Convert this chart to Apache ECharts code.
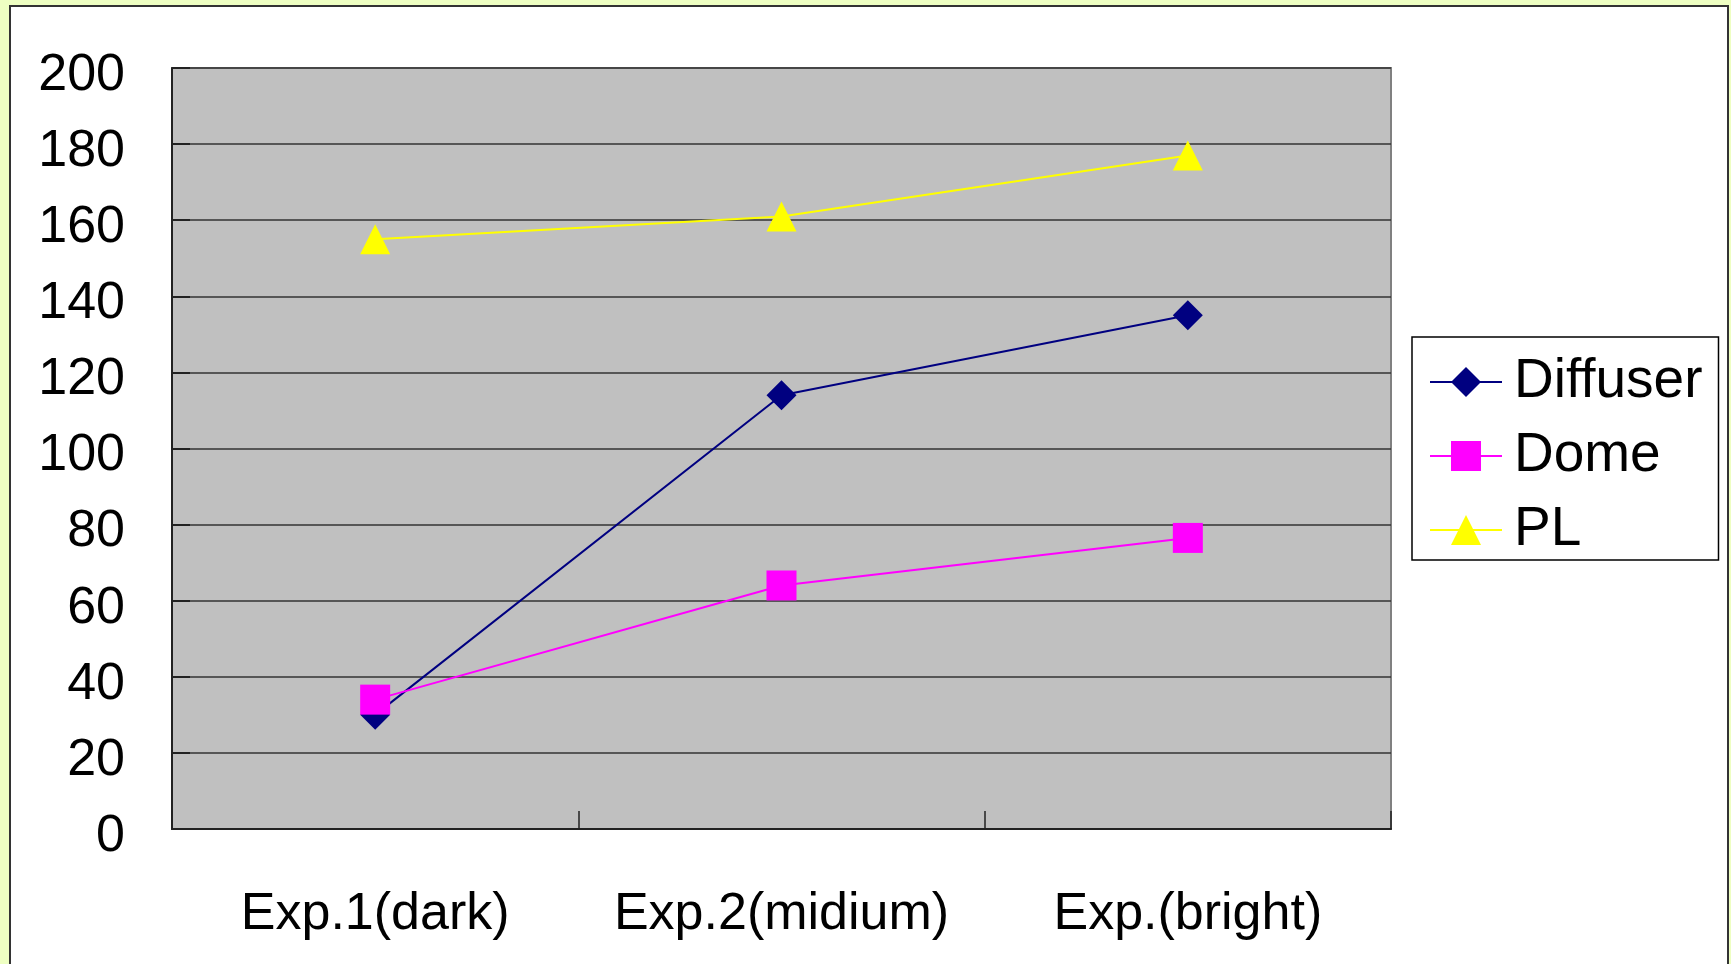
<!DOCTYPE html>
<html>
<head>
<meta charset="utf-8">
<script src="https://cdn.jsdelivr.net/npm/echarts@6/dist/echarts.min.js"></script>
<style>
  html, body { margin: 0; padding: 0; background: #EEFFC2; overflow: hidden; }
  #frame { position: absolute; left: 9px; top: 5px; width: 1716px; height: 1000px;
           background: #ffffff; border: 2px solid #333333; }
  #chart { position: absolute; left: 0; top: 0; width: 1731px; height: 964px; }
</style>
</head>
<body>
<div id="frame"></div>
<div id="chart"></div>
<script>
const categories = ['Exp.1(dark)', 'Exp.2(midium)', 'Exp.(bright)'];
const diffuser = [30, 114, 135];
const dome = [34, 64, 76.5];
const pl = [155, 161, 177];
const yTicks = { min: 0, max: 200, interval: 20 };

const FONT = '"Liberation Sans", Arial, sans-serif';
const chart = echarts.init(document.getElementById('chart'), null, { renderer: 'canvas' });

function lineSeries(name, data, color, symbol) {
  return {
    name: name, type: 'line', data: data,
    symbol: symbol, symbolSize: 30,
    lineStyle: { color: color, width: 2 },
    itemStyle: { color: color },
    emphasis: { disabled: true },
    animation: false
  };
}

chart.setOption({
  backgroundColor: 'transparent',
  animation: false,
  textStyle: { fontFamily: FONT },
  grid: {
    left: 172, top: 68, width: 1219, height: 761,
    show: true, backgroundColor: '#C0C0C0', borderColor: '#808080', borderWidth: 2
  },
  xAxis: {
    type: 'category', data: categories, boundaryGap: true,
    axisLine: { show: true, lineStyle: { color: '#222222', width: 2 } },
    axisTick: { show: true, inside: true, length: 18, interval: 0, lineStyle: { color: '#222222', width: 1.5 } },
    axisLabel: { color: '#000000', fontSize: 52, fontFamily: FONT, margin: 60, interval: 0, hideOverlap: false },
    splitLine: { show: false }
  },
  yAxis: {
    type: 'value', min: yTicks.min, max: yTicks.max, interval: yTicks.interval,
    axisLine: { show: true, lineStyle: { color: '#222222', width: 2 } },
    axisTick: { show: true, inside: true, length: 18, lineStyle: { color: '#222222', width: 2 } },
    axisLabel: {
      color: '#000000', fontSize: 52, fontFamily: FONT, margin: 47,
      formatter: '{v|{value}}',
      rich: { v: { color: '#000000', fontSize: 52, fontFamily: FONT, lineHeight: 52, padding: [15, 0, 0, 0] } }
    },
    splitLine: { show: true, lineStyle: { color: '#333333', width: 1.5 } }
  },
  legend: {
    orient: 'vertical', left: 1412, top: 337,
    padding: [15, 16, 0, 17],
    itemWidth: 72, itemHeight: 37.5, itemGap: 14,
    backgroundColor: '#ffffff', borderColor: '#000000', borderWidth: 1.5,
    textStyle: { color: '#000000', fontSize: 55, fontFamily: FONT, lineHeight: 46, padding: [14, 0, 0, 7] },
    data: ['Diffuser', 'Dome', 'PL']
  },
  series: [
    lineSeries('Diffuser', diffuser, '#000080', 'diamond'),
    lineSeries('Dome', dome, '#FF00FF', 'rect'),
    lineSeries('PL', pl, '#FFFF00', 'triangle')
  ]
});
</script>
</body>
</html>
